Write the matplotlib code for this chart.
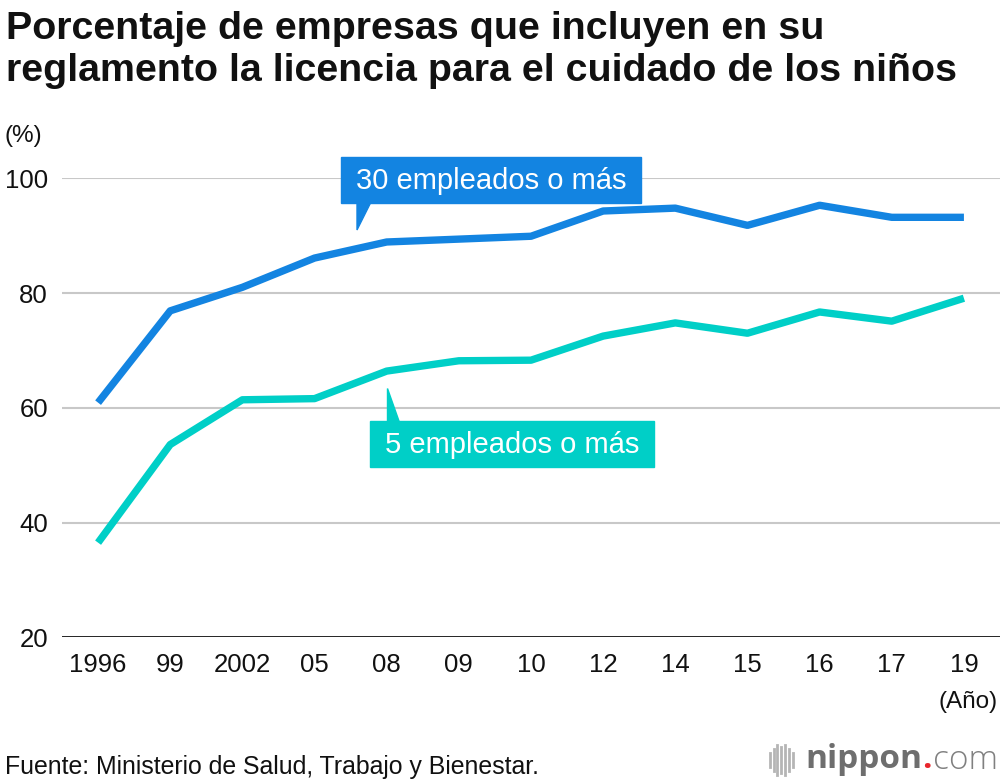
import matplotlib.pyplot as plt
from matplotlib.patches import Polygon, Rectangle
from matplotlib.lines import Line2D

plt.rcParams['font.family'] = ['Liberation Sans', 'DejaVu Sans']

# datos
years = ['1996', '99', '2002', '05', '08', '09', '10', '12', '14', '15', '16', '17', '19']
emp30 = [60.9, 76.9, 81.0, 86.1, 88.9, 89.4, 89.9, 94.3, 94.8, 91.8, 95.3, 93.2, 93.2]
emp5 = [36.5, 53.6, 61.4, 61.6, 66.4, 68.2, 68.3, 72.5, 74.8, 73.0, 76.7, 75.1, 79.1]

blue = '#1384e1'
teal = '#00cfc7'

W, H = 1000, 782
fig = plt.figure(figsize=(W / 100, H / 100), dpi=100)
ax = fig.add_axes([0.062, 0.185, 0.938, 0.587])
x = list(range(len(years)))

ax.plot(x, emp30, color=blue, linewidth=5.3, solid_capstyle='butt', zorder=3)
ax.plot(x, emp5, color=teal, linewidth=5.3, solid_capstyle='butt', zorder=3)

ax.set_xlim(-0.5, 12.5)
ax.set_ylim(20, 100)
ax.set_yticks([20, 40, 60, 80, 100])
ax.set_xticks(x)
ax.set_xticklabels(years)
for yv in [40, 60, 80, 100]:
    ax.axhline(yv, color='#c8c8c8', linewidth=1.5, zorder=1)
ax.axhline(20, color='#111111', linewidth=2, zorder=2)
for s in ax.spines.values():
    s.set_visible(False)
ax.tick_params(axis='both', length=0, labelsize=18.5, colors='#111111')
ax.tick_params(axis='x', pad=11)
ax.tick_params(axis='y', pad=10)


def px(xp, yp):
    return (xp / W, 1 - yp / H)


# etiquetas tipo bocadillo
def bubble(x0, y0, x1, y1, tail, color, text):
    fig.patches.append(Rectangle(px(x0, y1), (x1 - x0) / W, (y1 - y0) / H,
                                 transform=fig.transFigure, color=color, zorder=5))
    fig.patches.append(Polygon([px(*p) for p in tail], closed=True,
                               transform=fig.transFigure, color=color, zorder=5))
    cx, cy = px((x0 + x1) / 2, (y0 + y1) / 2 + 1)
    fig.text(cx, cy, text, color='white', fontsize=21, ha='center', va='center', zorder=6)


bubble(341, 157, 641, 203, [(357, 202), (371, 202), (357, 230)], blue, '30 empleados o más')
bubble(370, 421, 654, 467, [(387, 388), (387, 422), (399, 422)], teal, '5 empleados o más')

fig.text(*px(6, 11), 'Porcentaje de empresas que incluyen en su\nreglamento la licencia para el cuidado de los niños',
         fontsize=28.4, fontweight='bold', va='top', ha='left', linespacing=1.2, color='#111111')
fig.text(*px(5, 136), '(%)', fontsize=17.5, color='#111111', va='center')
fig.text(*px(998, 702), '(Año)', fontsize=17.5, color='#111111', ha='right', va='center')
fig.text(*px(5, 767), 'Fuente: Ministerio de Salud, Trabajo y Bienestar.', fontsize=17.9,
         color='#111111', va='center')

# logo nippon.com
fig.canvas.draw()
r = fig.canvas.get_renderer()
ly = 1 - 760 / H
right = 0.998
t_com = fig.text(right, ly, 'com', fontsize=24, color='#808080', ha='right', va='center',
                 family='Open Sans', fontweight='light')
right -= t_com.get_window_extent(r).width / W + 0.001
t_dot = fig.text(right, ly, '.', fontsize=24, color='#e8262c', ha='right', va='center',
                 family='Open Sans', fontweight='bold')
right -= t_dot.get_window_extent(r).width / W
t_nip = fig.text(right, ly, 'nippon', fontsize=24, color='#6e6e6e', ha='right', va='center',
                 family='Open Sans', fontweight='bold')
right -= t_nip.get_window_extent(r).width / W + 0.013
bars = [0.45, 0.75, 1.0, 0.85, 1.0, 0.75, 0.45]
for i, b in enumerate(reversed(bars)):
    xb = right - i * 0.0038
    fig.add_artist(Line2D([xb, xb], [ly - 0.019 * b, ly + 0.019 * b], color='#b5b5b5',
                          linewidth=2, transform=fig.transFigure))

fig.savefig('out.png', dpi=100)
